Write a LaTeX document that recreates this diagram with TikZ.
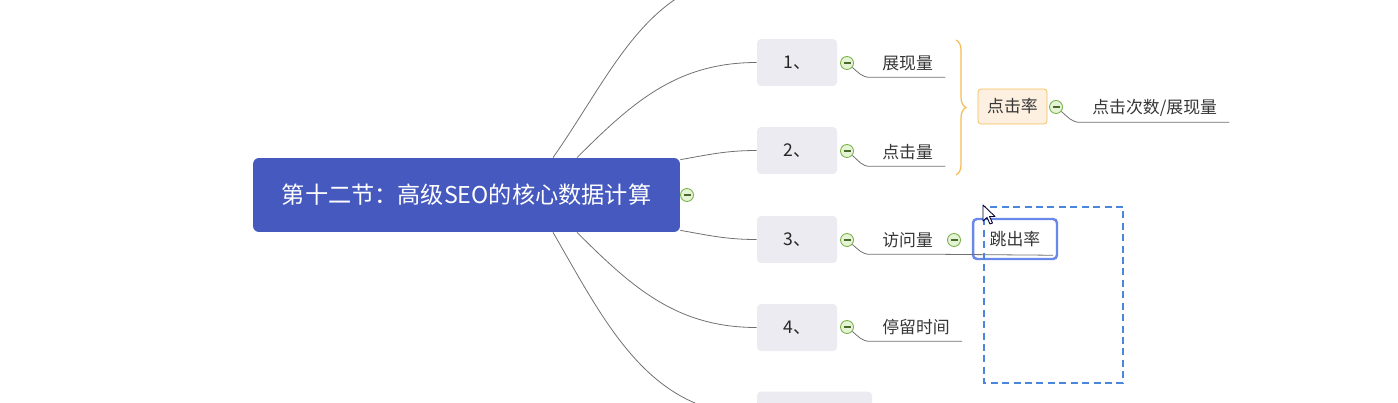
\documentclass[tikz,border=0pt]{standalone}
\usepackage{fontspec}
\newfontfamily\cjk{Noto Sans CJK SC}
\usetikzlibrary{decorations.pathreplacing}
\definecolor{rootblue}{HTML}{4559BE}
\definecolor{branchgray}{HTML}{EBEBF1}
\definecolor{linegray}{HTML}{707070}
\definecolor{foldgreen}{HTML}{78B34A}
\definecolor{foldfill}{HTML}{E6F4D6}
\definecolor{braceorange}{HTML}{F5BC55}
\definecolor{notefill}{HTML}{FDF0E1}
\definecolor{selblue}{HTML}{6A87EA}
\definecolor{dragblue}{HTML}{4C86DC}
\definecolor{txt}{HTML}{363636}
\tikzset{
  root/.style={fill=rootblue, rounded corners=0.12cm, minimum width=8.54cm, minimum height=1.48cm,
    text=white, font=\cjk\fontsize{13.2}{15}\selectfont},
  branch/.style={fill=branchgray, rounded corners=0.08cm, minimum width=1.6cm, minimum height=0.94cm,
    text=black!85, font=\cjk\fontsize{10}{12}\selectfont},
  subtopic/.style={anchor=west, inner xsep=0.24cm, inner ysep=0pt, minimum height=0.56cm,
    text=txt, font=\cjk\fontsize{9.6}{11}\selectfont},
  fold/.style={circle, draw=foldgreen, fill=foldfill, minimum size=0.26cm, inner sep=0pt, line width=0.5pt,
    path picture={\draw[foldgreen!60!black, line width=0.6pt]
      ([xshift=-0.07cm]path picture bounding box.center) -- ([xshift=0.07cm]path picture bounding box.center);}},
  link/.style={draw=linegray, line width=0.45pt},
}
\begin{document}
\begin{tikzpicture}[x=0.02cm, y=-0.02cm]
\useasboundingbox (0,0) rectangle (1398,402);
\clip (0,0) rectangle (1398,402);

\node[root] (root) at (466.5,195) {第十二节：高级SEO的核心数据计算};
\node[fold] (f0) at (687,195) {};

\coordinate (b0) at (757,-25);
\node[branch] (b1) at (797,62.5) {1、};
\node[branch] (b2) at (797,150.5) {2、};
\node[branch] (b3) at (797,239.5) {3、};
\node[branch] (b4) at (797,327.5) {4、};
\node[branch, minimum width=2.3cm] (b5) at (814.5,415) {};

\draw[link] ([xshift=1.73cm]root.north) to[out=55,in=180] (b0);
\draw[link] ([xshift=2.21cm]root.north) to[out=45,in=180] (b1.west);
\draw[link] ([yshift=-0.04cm]root.north east) to[out=10,in=180] (b2.west);
\draw[link] ([yshift=0.04cm]root.south east) to[out=-10,in=180] (b3.west);
\draw[link] ([xshift=2.21cm]root.south) to[out=-45,in=180] (b4.west);
\draw[link] ([xshift=1.73cm]root.south) to[out=-60,in=180] (b5.west);

\node[fold] (f1) at (847,63) {};
\node[fold] (f2) at (847,151) {};
\node[fold] (f3) at (847,240) {};
\node[fold] (f4) at (847,327) {};

\node[subtopic] (s1) at (870,63) {展现量};
\node[subtopic] (s2) at (870,152) {点击量};
\node[subtopic] (s3) at (870,240) {访问量};
\node[subtopic] (s4) at (870,327) {停留时间};
\draw[link] (f1) to[out=-40,in=180] (s1.south west) -- (s1.south east);
\draw[link] (f2) to[out=-40,in=180] (s2.south west) -- (s2.south east);
\draw[link] (f4) to[out=-40,in=180] (s4.south west) -- (s4.south east);

\node[draw=selblue, line width=1.4pt, rounded corners=0.08cm, minimum width=1.68cm, minimum height=0.8cm,
  text=txt, font=\cjk\fontsize{9.6}{11}\selectfont] (jump) at (1015,239) {跳出率};
\draw[link] (f3) to[out=-40,in=180] (s3.south west) -- (s3.south east)
  -- ([xshift=-0.1cm,yshift=0.1cm]jump.south east);
\node[fold] (f3b) at (954,240) {};

\coordinate (bt) at (956,40);
\coordinate (bb) at (956,175);
\draw[braceorange, line width=0.7pt, decorate, decoration={brace, amplitude=0.2cm}] (bt) -- (bb);
\node[draw=braceorange, fill=notefill, rounded corners=0.06cm, minimum width=1.38cm, minimum height=0.7cm,
  text=txt, font=\cjk\fontsize{9.6}{11}\selectfont] (rate) at (1012.5,106.5) {点击率};
\node[fold] (f5) at (1056,107) {};
\node[subtopic] (s5) at (1080,108) {点击次数/展现量};
\draw[link] (f5) to[out=-40,in=180] (s5.south west) -- (s5.south east);

\draw[dragblue, line width=0.8pt, dash pattern=on 4pt off 2.5pt] (984,207) rectangle (1123,383);
\draw[fill=white, draw=black!80!blue, line width=0.5pt, line join=round]
  (983,205) -- (983,221) -- (987,217.5) -- (990,224) -- (992.5,223) -- (989.5,216.5) -- (995,216.5) -- cycle;
\end{tikzpicture}
\end{document}
